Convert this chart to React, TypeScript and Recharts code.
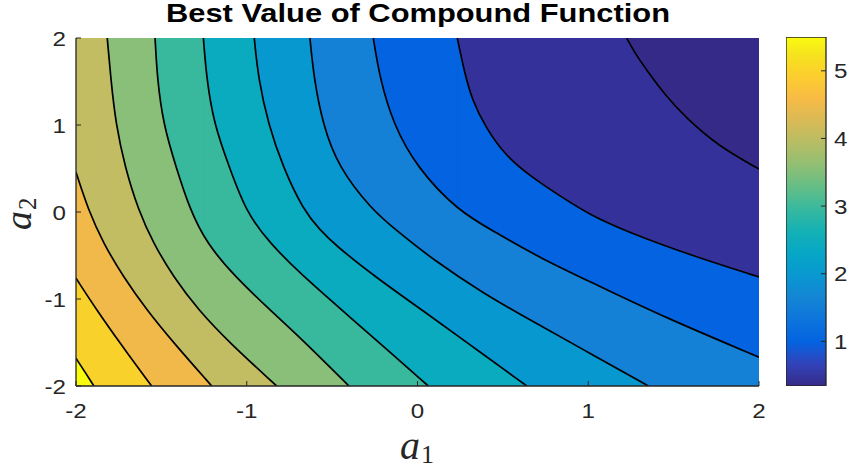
import React from 'react';
import { ComposedChart, Area, XAxis, YAxis, BarChart, Bar } from 'recharts';

// ---------- data ----------
const xTicks = [-2, -1, 0, 1, 2];
const yTicks = [-2, -1, 0, 1, 2];
const colorbarTicks = [1, 2, 3, 4, 5];
const colorbarRange = [0.34, 5.5];

// contour lines, [a1, a2] points, ordered from the bottom-left (highest value) to the top-right
const contour1 = [[-2, -1.682], [-1.947, -1.84], [-1.895, -2]];
const contour2 = [[-2, -0.762], [-1.879, -1.126], [-1.742, -1.509], [-1.557, -2]];
const contour3 = [[-2, 0.456], [-1.928, 0.023], [-1.84, -0.36], [-1.723, -0.744], [-1.586, -1.126], [-1.426, -1.509], [-1.205, -2]];
const contour4 = [[-1.817, 2], [-1.796, 1.529], [-1.767, 1.011], [-1.713, 0.514], [-1.635, 0.023], [-1.547, -0.36], [-1.43, -0.744], [-1.284, -1.126], [-1.098, -1.509], [-0.825, -2]];
const contour5 = [[-1.537, 2], [-1.524, 1.529], [-1.489, 1.011], [-1.414, 0.514], [-1.332, 0.023], [-1.235, -0.36], [-1.069, -0.744], [-0.864, -1.126], [-0.682, -1.452], [-0.401, -2]];
const contour6 = [[-1.254, 2], [-1.235, 1.529], [-1.192, 1.011], [-1.102, 0.514], [-1.004, -0.003], [-0.864, -0.36], [-0.688, -0.705], [-0.444, -1.126], [-0.22, -1.509], [0.063, -2]];
const contour7 = [[-0.956, 2], [-0.932, 1.529], [-0.874, 1.011], [-0.788, 0.514], [-0.669, 0.023], [-0.571, -0.207], [-0.483, -0.379], [-0.249, -0.744], [0.026, -1.126], [0.296, -1.509], [0.64, -2]];
const contour8 = [[-0.63, 2], [-0.606, 1.529], [-0.555, 1.011], [-0.464, 0.514], [-0.266, 0.023], [-0.126, -0.207], [0.093, -0.552], [0.385, -0.934], [0.659, -1.241], [1.01, -1.624], [1.352, -2]];
const contour9 = [[-0.259, 2], [-0.22, 1.529], [-0.142, 1.011], [-0.005, 0.514], [0.237, 0.011], [0.454, -0.23], [0.717, -0.529], [1.051, -0.839], [1.438, -1.203], [2, -1.669]];
const contour10 = [[0.233, 2], [0.272, 1.632], [0.319, 1.287], [0.401, 0.966], [0.512, 0.655], [0.659, 0.414], [0.835, 0.184], [0.999, -0.023], [1.244, -0.241], [1.596, -0.494], [2, -0.747]];
const contour11 = [[1.225, 2], [1.28, 1.805], [1.342, 1.632], [1.45, 1.345], [1.567, 1.092], [1.76, 0.759], [2, 0.494]];

// ---------- styles ----------
const contours = [contour1, contour2, contour3, contour4, contour5, contour6, contour7, contour8, contour9, contour10, contour11];
// colour of the band lying just below-left of each contour
const bandColors = ['#F9FB0E', '#F8D22A', '#F1B94A', '#C2BC62', '#89BF78', '#38B89D', '#0AABBE', '#0798D0', '#1481D6', '#0363E1', '#34329A'];
const cornerColor = '#352A87';

const parulaStops = [
  '#352A87', '#3243BA', '#0363E1', '#0D75DC', '#1485D4', '#0998D1', '#06A7C6', '#15B1B4', '#38B99E',
  '#65BE86', '#92BF73', '#B7BD64', '#D9BA56', '#F8BB44', '#FCCE2E', '#F5E41D', '#F9FB0E',
];
const parulaOffsets = [0, 4, 8, 12, 16, 20, 24, 28, 32, 36, 40, 44, 48, 52, 56, 60, 63];

const AX = '#262626';
const SANS = '"Liberation Sans", Arial, Helvetica, sans-serif';
const SERIF = '"Liberation Serif", "Times New Roman", serif';

const makeTick = (anchor: 'start' | 'middle' | 'end', dy: string) => (props: any) => {
  const { x, y, payload } = props;
  return (
    <text
      x={0}
      y={0}
      transform={`translate(${x},${y}) scale(1.15,1)`}
      textAnchor={anchor}
      dy={dy}
      fontSize={21}
      fontFamily={SANS}
      fill={AX}
    >
      {payload.value}
    </text>
  );
};

const toPts = (arr: number[][]) => arr.map(([x, y]) => ({ x, y }));

export default function App() {
  const order = [10, 9, 8, 7, 6, 5, 4, 3, 2, 1, 0];
  const items: React.ReactNode[] = [];
  items.push(
    <Area
      key="bg"
      data={[{ x: -2, y: 2 }, { x: 2, y: 2 }]}
      dataKey="y"
      baseValue={-2}
      type="linear"
      fill={cornerColor}
      fillOpacity={1}
      stroke="none"
      dot={false}
      activeDot={false}
      isAnimationActive={false}
    />
  );
  order.forEach((k) => {
    const c = contours[k];
    const first = c[0];
    if (first[1] >= 2 && first[0] > -2) {
      items.push(
        <Area
          key={'r' + k}
          data={[{ x: -2, y: 2 }, { x: first[0] + 0.003, y: 2 }]}
          dataKey="y"
          baseValue={-2}
          type="linear"
          fill={bandColors[k]}
          fillOpacity={1}
          stroke="none"
          dot={false}
          activeDot={false}
          isAnimationActive={false}
        />
      );
    }
    items.push(
      <Area
        key={'c' + k}
        data={toPts(c)}
        dataKey="y"
        baseValue={-2}
        type="basis"
        fill={bandColors[k]}
        fillOpacity={1}
        stroke="#000"
        strokeWidth={1.7}
        dot={false}
        activeDot={false}
        isAnimationActive={false}
      />
    );
  });

  return (
    <div style={{ position: 'absolute', left: 0, top: 0, width: 849, height: 469, background: '#fff' }}>
      <div style={{ position: 'absolute', left: 0, top: 0 }}>
        <ComposedChart width={849} height={469} margin={{ top: 38, right: 90, bottom: 53, left: 26 }}>
          <XAxis
            dataKey="x"
            type="number"
            domain={[-2, 2]}
            ticks={xTicks}
            interval={0}
            allowDataOverflow
            height={30}
            tickSize={-5}
            tickMargin={22}
            tick={makeTick('middle', '0.71em')}
            axisLine={{ stroke: AX, strokeWidth: 1.3 }}
            tickLine={{ stroke: AX }}
          />
          <XAxis
            xAxisId="top"
            orientation="top"
            dataKey="x"
            type="number"
            domain={[-2, 2]}
            ticks={xTicks}
            interval={0}
            allowDataOverflow
            height={0}
            tickSize={-5}
            tick={false}
            axisLine={{ stroke: AX, strokeWidth: 1.3 }}
            tickLine={{ stroke: AX }}
          />
          <YAxis
            type="number"
            domain={[-2, 2]}
            ticks={yTicks}
            interval={0}
            allowDataOverflow
            width={50}
            tickSize={-5}
            tickMargin={15}
            tick={makeTick('end', '0.36em')}
            axisLine={{ stroke: AX, strokeWidth: 1.3 }}
            tickLine={{ stroke: AX }}
          />
          <YAxis
            yAxisId="right"
            orientation="right"
            type="number"
            domain={[-2, 2]}
            ticks={yTicks}
            interval={0}
            allowDataOverflow
            width={0}
            tickSize={-5}
            tick={false}
            axisLine={{ stroke: AX, strokeWidth: 1.3 }}
            tickLine={{ stroke: AX }}
          />
          {items}
        </ComposedChart>
      </div>
      <div style={{ position: 'absolute', left: 786, top: 0 }}>
        <BarChart
          width={63}
          height={469}
          data={[{ name: 'cb', range: colorbarRange }]}
          margin={{ top: 37, right: 0, bottom: 83, left: 0 }}
          barCategoryGap={0}
        >
          <defs>
            <linearGradient id="parulaGrad" x1="0" y1="1" x2="0" y2="0">
              {parulaStops.map((c, i) => (
                <stop key={i} offset={parulaOffsets[i] / 63} stopColor={c} />
              ))}
            </linearGradient>
          </defs>
          <XAxis dataKey="name" hide />
          <YAxis
            orientation="right"
            type="number"
            domain={colorbarRange}
            ticks={colorbarTicks}
            interval={0}
            allowDataOverflow
            width={23}
            tickSize={-5}
            tickMargin={13}
            axisLine={false}
            tick={makeTick('start', '0.36em')}
            tickLine={{ stroke: AX }}
          />
          <Bar dataKey="range" fill="url(#parulaGrad)" stroke={AX} strokeWidth={1.3} isAnimationActive={false} />
        </BarChart>
      </div>
      <svg width={849} height={469} style={{ position: 'absolute', left: 0, top: 0, pointerEvents: 'none' }}>
        <text
          x={418}
          y={22}
          textAnchor="middle"
          fontFamily={SANS}
          fontWeight="bold"
          fontSize={25}
          textLength={504}
          lengthAdjust="spacingAndGlyphs"
          fill="#000"
        >
          Best Value of Compound Function
        </text>
        <text x={400} y={459} fontFamily={SERIF} fontStyle="italic" fontSize={40} fill={AX}>a</text>
        <text x={421} y={463} fontFamily={SERIF} fontSize={26} fill={AX}>1</text>
        <g transform="translate(31,230) rotate(-90)">
          <text x={0} y={0} fontFamily={SERIF} fontStyle="italic" fontSize={38} fill={AX}>a</text>
          <text x={20} y={5} fontFamily={SERIF} fontSize={25} fill={AX}>2</text>
        </g>
      </svg>
    </div>
  );
}
